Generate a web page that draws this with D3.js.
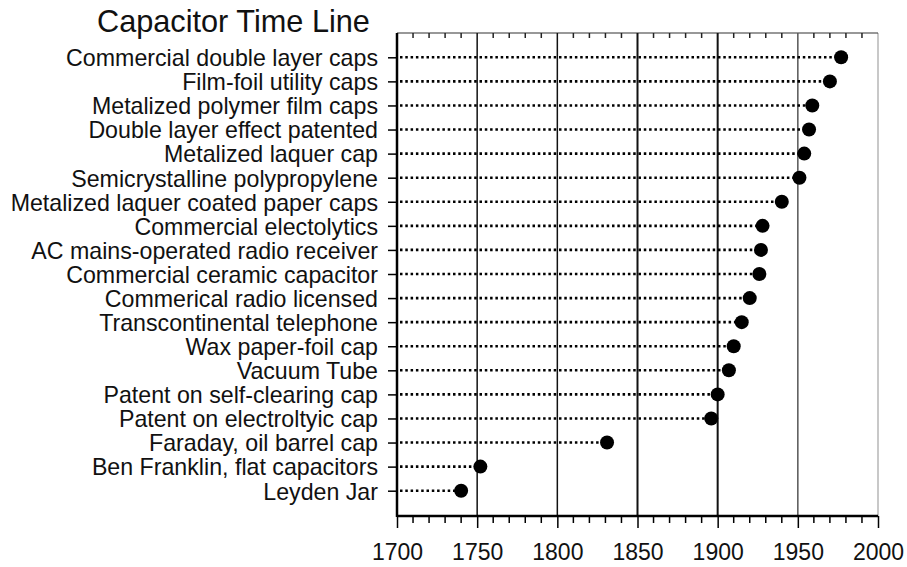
<!DOCTYPE html>
<html><head><meta charset="utf-8">
<script src="https://cdn.jsdelivr.net/npm/d3@7"></script>
<style>body{margin:0;background:#fff}svg{display:block}text{font-family:"Liberation Sans",Arial,sans-serif;fill:#111}</style>
</head><body><svg id="c" width="907" height="567"></svg>
<script>
const events = ["Commercial double layer caps","Film-foil utility caps","Metalized polymer film caps","Double layer effect patented","Metalized laquer cap","Semicrystalline polypropylene","Metalized laquer coated paper caps","Commercial electolytics","AC mains-operated radio receiver","Commercial ceramic capacitor","Commerical radio licensed","Transcontinental telephone","Wax paper-foil cap","Vacuum Tube","Patent on self-clearing cap","Patent on electroltyic cap","Faraday, oil barrel cap","Ben Franklin, flat capacitors","Leyden Jar"];
const years = [1977,1970,1959,1957,1954,1951,1940,1928,1927,1926,1920,1915,1910,1907,1900,1896,1831,1752,1740];
const xTicks = [1700,1750,1800,1850,1900,1950,2000];
const gridYears = [1750,1800,1850,1900,1950];
const title = "Capacitor Time Line";

const svg = d3.select("#c");
const L=397, R=878, T=33, B=516;
const x = d3.scaleLinear().domain([1700,2000]).range([L,R]);
const y = d3.scalePoint().domain(events).range([57.3,490.7]);

svg.append("text").attr("x",97).attr("y",32).attr("font-size",30.7).text(title);

// right border
svg.append("line").attr("x1",R).attr("x2",R).attr("y1",T).attr("y2",B).attr("stroke","#c8c8c8").attr("stroke-width",2);
// top border
svg.append("line").attr("x1",L).attr("x2",R).attr("y1",T).attr("y2",T).attr("stroke","#333").attr("stroke-width",1.2);
// top minor ticks
const minor = d3.range(1710,2000,10).filter(v=>v%50!==0);
svg.selectAll(".tm").data(minor).join("line").attr("x1",d=>x(d)).attr("x2",d=>x(d)).attr("y1",T).attr("y2",T+5).attr("stroke","#222").attr("stroke-width",1.5);

// gridlines
svg.selectAll(".g").data(gridYears).join("line").attr("x1",d=>x(d)).attr("x2",d=>x(d)).attr("y1",T).attr("y2",B)
  .attr("stroke",d=>d===1950?"#555":"#111").attr("stroke-width",d=>(d===1850||d===1900)?2:1.5);

// dotted lines
svg.selectAll(".dl").data(events).join("line").attr("x1",L+3).attr("x2",(d,i)=>x(years[i])).attr("y1",d=>y(d)).attr("y2",d=>y(d))
  .attr("stroke","#000").attr("stroke-width",2.6).attr("stroke-dasharray","2.5,2.8");

// points
svg.selectAll(".pt").data(events).join("circle").attr("cx",(d,i)=>x(years[i])).attr("cy",d=>y(d)).attr("r",7).attr("fill","#000");

// left axis
const ya = svg.append("g").attr("transform",`translate(${L},0)`).call(d3.axisLeft(y).tickSize(9).tickPadding(10));
ya.select(".domain").remove();
ya.append("line").attr("x1",0).attr("x2",0).attr("y1",T).attr("y2",B+1).attr("stroke","#000").attr("stroke-width",2.5);
ya.selectAll(".tick line").attr("stroke","#000").attr("stroke-width",1.5);
ya.selectAll(".tick text").attr("font-size",23.2).attr("fill","#111").attr("font-family","Liberation Sans, Arial, sans-serif").attr("dy","0.36em");

// bottom axis
const xa = svg.append("g").attr("transform",`translate(0,${B})`).call(d3.axisBottom(x).tickValues(xTicks).tickFormat(d3.format("d")).tickSize(12).tickPadding(16));
xa.select(".domain").remove();
xa.append("line").attr("x1",L).attr("x2",R).attr("y1",0).attr("y2",0).attr("stroke","#000").attr("stroke-width",2.5);
xa.selectAll(".tick line").attr("stroke","#000").attr("stroke-width",1.5);
xa.selectAll(".tick text").attr("font-size",23).attr("fill","#111").attr("font-family","Liberation Sans, Arial, sans-serif");
xa.selectAll(".mn").data(minor).join("line").attr("x1",d=>x(d)).attr("x2",d=>x(d)).attr("y1",0).attr("y2",7).attr("stroke","#000").attr("stroke-width",1.5);
</script></body></html>
